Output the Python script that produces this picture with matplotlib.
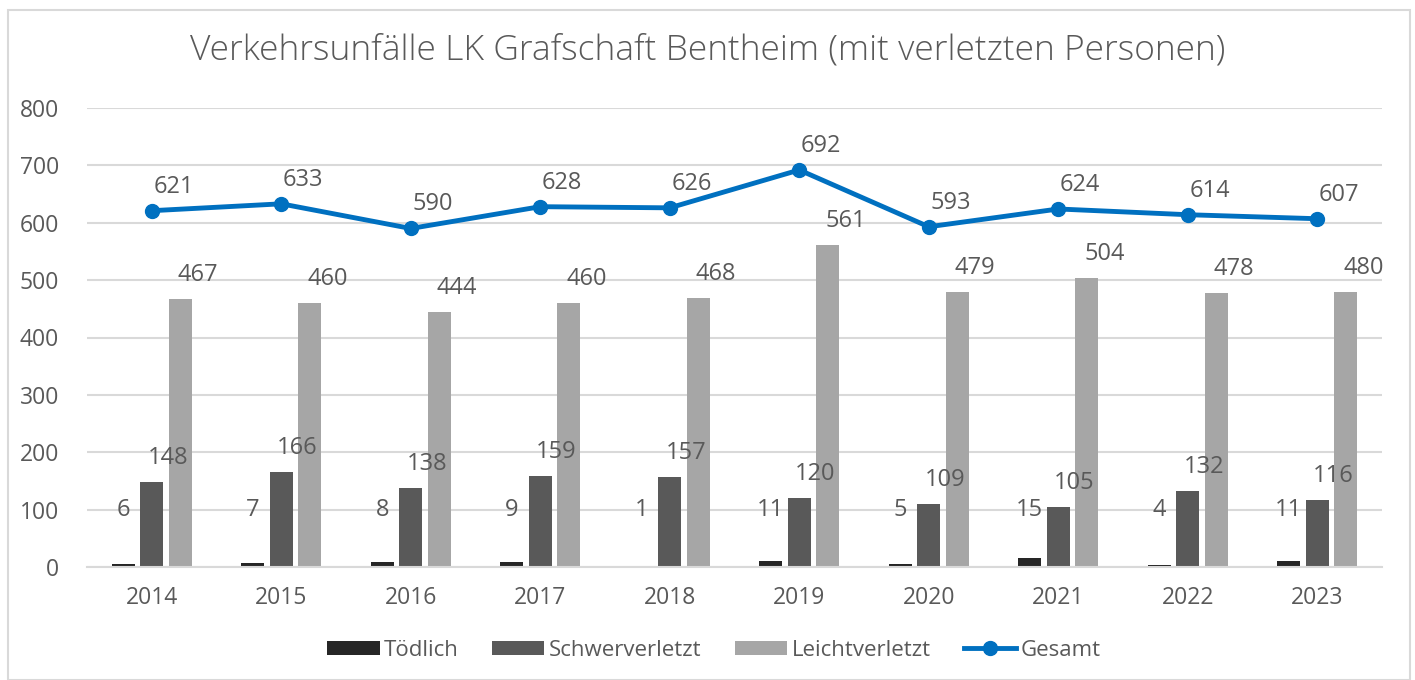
import matplotlib.pyplot as plt
from matplotlib.patches import Rectangle
import numpy as np

years = ['2014', '2015', '2016', '2017', '2018', '2019', '2020', '2021', '2022', '2023']
toedlich = [6, 7, 8, 9, 1, 11, 5, 15, 4, 11]
schwer = [148, 166, 138, 159, 157, 120, 109, 105, 132, 116]
leicht = [467, 460, 444, 460, 468, 561, 479, 504, 478, 480]
gesamt = [621, 633, 590, 628, 626, 692, 593, 624, 614, 607]

txt = '#595959'
plt.rcParams['font.family'] = ['Open Sans', 'DejaVu Sans']
plt.rcParams['text.color'] = txt

fig = plt.figure(figsize=(14.15, 6.8), dpi=100)
ax = fig.add_axes([87 / 1415, 1 - 567 / 680, (1382 - 87) / 1415, (567 - 108) / 680])

x = np.arange(len(years))
w = 0.178
off = 0.22
ax.bar(x - off, toedlich, w, color='#262626', label='Tödlich', zorder=2)
ax.bar(x, schwer, w, color='#595959', label='Schwerverletzt', zorder=2)
ax.bar(x + off, leicht, w, color='#A6A6A6', label='Leichtverletzt', zorder=2)
ax.plot(x, gesamt, color='#0070C0', lw=3.5, marker='o', ms=10, label='Gesamt', zorder=3)

fs = 17
for i in range(len(years)):
    ax.text(x[i] - off, 100, str(toedlich[i]), ha='center', va='center', fontsize=fs)
    ax.annotate(str(schwer[i]), (x[i], schwer[i]), xytext=(16, 24), textcoords='offset pixels',
                ha='center', va='center', fontsize=fs)
    ax.annotate(str(leicht[i]), (x[i] + off, leicht[i]), xytext=(18, 24), textcoords='offset pixels',
                ha='center', va='center', fontsize=fs)
    ax.annotate(str(gesamt[i]), (x[i], gesamt[i]), xytext=(22, 24), textcoords='offset pixels',
                ha='center', va='center', fontsize=fs)

ax.set_xlim(-0.5, len(years) - 0.5)
ax.set_ylim(0, 800)
ax.set_yticks(range(0, 801, 100))
ax.set_xticks(x)
ax.set_xticklabels(years)
ax.tick_params(length=0, labelsize=16.5, colors=txt, pad=14)
ax.tick_params(axis='y', pad=20)
ax.grid(axis='y', color='#D9D9D9', lw=1.5, zorder=0)
for s in ['top', 'right', 'left']:
    ax.spines[s].set_visible(False)
ax.spines['bottom'].set_color('#D9D9D9')
ax.spines['bottom'].set_linewidth(1.5)

fig.text(0.5, 1 - 50 / 680, 'Verkehrsunfälle LK Grafschaft Bentheim (mit verletzten Personen)',
         ha='center', va='center', fontsize=25.5, color=txt, fontweight='light')

handles, labels = ax.get_legend_handles_labels()
order = [1, 2, 3, 0]
fig.legend([handles[i] for i in order], [labels[i] for i in order],
           loc='center', bbox_to_anchor=(714 / 1415, 1 - 650 / 680), ncol=4, frameon=False,
           fontsize=16, handlelength=2.35, handleheight=0.6, handletextpad=0.2,
           columnspacing=1.5, labelcolor=txt)

fig.patches.append(Rectangle((8 / 1415, 0), 1402 / 1415, 1 - 10 / 680, transform=fig.transFigure,
                             fill=False, edgecolor='#D9D9D9', lw=1.5))

fig.savefig('out.png', dpi=100)
